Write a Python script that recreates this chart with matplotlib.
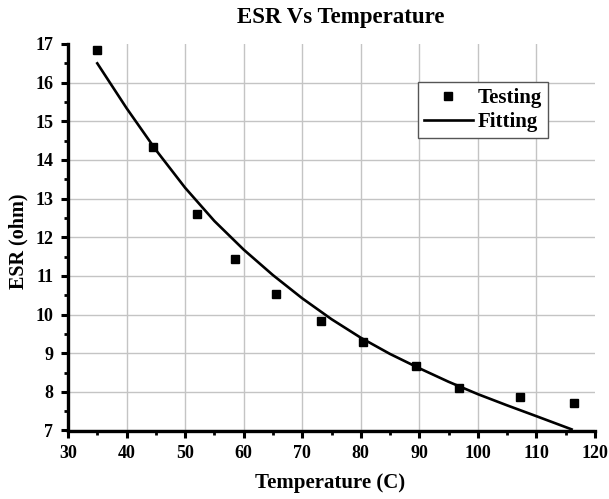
import matplotlib
matplotlib.use("Agg")
import matplotlib.pyplot as plt
from matplotlib.ticker import MultipleLocator

# Measured points
temp_test = [35.0, 44.6, 52.0, 58.5, 65.6, 73.2, 80.4, 89.4, 96.7, 107.2, 116.4]
esr_test = [16.85, 14.33, 12.60, 11.45, 10.54, 9.83, 9.29, 8.68, 8.10, 7.86, 7.72]

# Fitted curve
temp_fit = [35, 40, 45, 50, 55, 60, 65, 70, 75, 80, 85, 90, 95, 100, 105, 110, 116]
esr_fit = [16.50, 15.34, 14.26, 13.28, 12.42, 11.68, 11.02, 10.42, 9.88, 9.40,
           8.98, 8.61, 8.26, 7.94, 7.65, 7.37, 7.03]

x_ticks = [30, 40, 50, 60, 70, 80, 90, 100, 110, 120]
y_ticks = [7, 8, 9, 10, 11, 12, 13, 14, 15, 16, 17]

plt.rcParams['font.family'] = ['Liberation Serif', 'DejaVu Serif']
plt.rcParams['font.weight'] = 'bold'

W, H = 609, 499
fig = plt.figure(figsize=(W / 100, H / 100), dpi=100)
ax = fig.add_axes([68 / W, 1 - 430.5 / H, (595 - 68) / W, (430.5 - 44) / H])

ax.grid(True, color='#c4c4c4', linewidth=1.0, zorder=0)
ax.plot(temp_fit, esr_fit, color='black', linewidth=1.9, label='Fitting', zorder=3)
ax.plot(temp_test, esr_test, linestyle='none', marker='s', markersize=6.2,
        color='black', label='Testing', zorder=4)

ax.set_xlim(30, 120)
ax.set_ylim(7, 17)
ax.set_xticks(x_ticks)
ax.set_yticks(y_ticks)
ax.xaxis.set_minor_locator(MultipleLocator(5))
ax.yaxis.set_minor_locator(MultipleLocator(0.5))
ax.xaxis.get_major_ticks()[-1].gridline.set_visible(False)
ax.yaxis.get_major_ticks()[-1].gridline.set_visible(False)

for s in ['top', 'right']:
    ax.spines[s].set_visible(False)
for s in ['left', 'bottom']:
    ax.spines[s].set_linewidth(2.4)

ax.tick_params(which='major', direction='out', length=5, width=2.2,
               labelsize=13, pad=5.5)
ax.tick_params(which='minor', direction='out', length=3, width=2.0)
for lab in ax.get_xticklabels() + ax.get_yticklabels():
    lab.set_fontweight('bold')

handles, labels = ax.get_legend_handles_labels()
leg = ax.legend(handles[::-1], labels[::-1], loc='upper left',
                bbox_to_anchor=(0.664, 0.9017), borderaxespad=0,
                fancybox=False, edgecolor='#555555', framealpha=1,
                prop={'weight': 'bold', 'size': 15},
                handlelength=2.35, handletextpad=0.25, labelspacing=0.22,
                borderpad=0.28, markerscale=0.85)
leg.get_frame().set_linewidth(1.0)

fig.text(341 / W, 1 - 17 / H, 'ESR Vs Temperature', ha='center', va='center',
         fontsize=16.5, fontweight='bold')
fig.text(330 / W, 1 - 483 / H, 'Temperature (C)', ha='center', va='center',
         fontsize=15, fontweight='bold')
fig.text(18.5 / W, 1 - 241 / H, 'ESR (ohm)', ha='center', va='center',
         rotation=90, fontsize=14.5, fontweight='bold')

fig.savefig('out.png', dpi=100)
